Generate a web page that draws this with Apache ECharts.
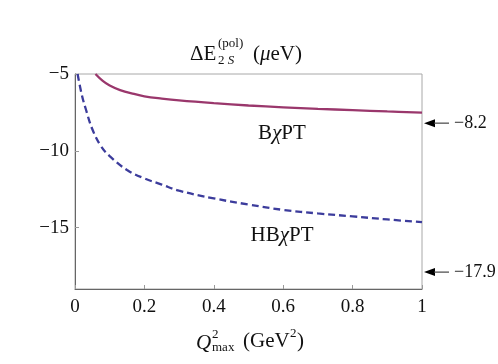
<!DOCTYPE html>
<html>
<head>
<meta charset="utf-8">
<script src="https://cdn.jsdelivr.net/npm/echarts@6/dist/echarts.min.js"></script>
<style>html,body{margin:0;padding:0;background:#fff}#c{width:498px;height:364px}</style>
</head>
<body>
<div id="c"></div>
<script>
// Data
var bchptX = [0.059, 0.08, 0.10, 0.13, 0.17, 0.20, 0.25, 0.30, 0.40, 0.50, 0.60, 0.70, 0.80, 0.90, 1.00];
var bchptY = [-5.0, -5.45, -5.75, -6.05, -6.3, -6.45, -6.6, -6.72, -6.9, -7.05, -7.17, -7.27, -7.35, -7.44, -7.52];
var hbchptX = [0.0075, 0.02, 0.03, 0.05, 0.075, 0.10, 0.15, 0.20, 0.25, 0.30, 0.40, 0.50, 0.60, 0.70, 0.80, 0.90, 1.00];
var hbchptY = [-5.0, -6.4, -7.2, -8.6, -9.7, -10.35, -11.25, -11.8, -12.2, -12.6, -13.1, -13.5, -13.85, -14.08, -14.27, -14.47, -14.65];
var refValues = [-8.2, -17.9];
var refLabels = ['\u22128.2', '\u221217.9'];
var yTicks = [-15, -10, -5];
var xTicks = [0, 0.2, 0.4, 0.6, 0.8, 1];

function zip(a, b) { return a.map(function (v, i) { return [v, b[i]]; }); }
var FONT = 'Liberation Serif';
var chart = echarts.init(document.getElementById('c'), null, {renderer: 'canvas'});
function fmt(v) { return v < 0 ? '\u2212' + Math.abs(v) : String(v); }

chart.setOption({
  animation: false,
  backgroundColor: '#fff',
  grid: {left: 75, right: 76, top: 74, bottom: 75, show: true, borderColor: '#a8a8a8', borderWidth: 1},
  xAxis: {
    type: 'value', min: 0, max: 1, interval: 0.2,
    axisLine: {onZero: false, lineStyle: {color: '#666', width: 1}},
    axisTick: {inside: true, length: 4, lineStyle: {color: '#999'}},
    axisLabel: {fontFamily: FONT, fontSize: 19, color: '#111', margin: 9, formatter: function (v) { return fmt(+v.toFixed(1)); }},
    splitLine: {show: false}
  },
  yAxis: {
    type: 'value', min: -19, max: -5,
    axisLine: {show: true, onZero: false, lineStyle: {color: '#666', width: 1}},
    axisTick: {show: true, inside: true, length: 4, customValues: yTicks, lineStyle: {color: '#999'}},
    axisLabel: {fontFamily: FONT, fontSize: 19, color: '#111', margin: 6, customValues: yTicks, formatter: function (v) { return fmt(v); }},
    splitLine: {show: false}
  },
  series: [
    {type: 'line', data: zip(bchptX, bchptY), smooth: 0.4, showSymbol: false,
     lineStyle: {color: '#9a376c', width: 2.3}, z: 3},
    {type: 'line', data: zip(hbchptX, hbchptY), smooth: 0.4, showSymbol: false,
     lineStyle: {color: '#3c3c9c', width: 2.3, type: [7, 4]}, z: 3}
  ]
});

var g = [];
// arrows + labels at reference values
refValues.forEach(function (v, i) {
  var p = chart.convertToPixel({gridIndex: 0}, [1, v]);
  var x0 = p[0] + 2, y = p[1];
  g.push({type: 'polygon', shape: {points: [[x0, y], [x0 + 11, y - 4], [x0 + 11, y + 4]]}, style: {fill: '#000'}, z: 10});
  g.push({type: 'line', shape: {x1: x0 + 10, y1: y, x2: x0 + 25, y2: y}, style: {stroke: '#444', lineWidth: 1.2}, z: 10});
  g.push({type: 'text', x: x0 + 30, y: y, style: {text: refLabels[i], font: '18px "' + FONT + '"', fill: '#111', verticalAlign: 'middle', align: 'left'}, z: 10});
});
// title
g.push({type: 'text', x: 190, y: 54, style: {text: '\u0394E', font: '21px "' + FONT + '"', fill: '#111', verticalAlign: 'middle'}});
g.push({type: 'text', x: 218, y: 44, style: {text: '(pol)', font: '13px "' + FONT + '"', fill: '#111', verticalAlign: 'middle'}});
g.push({type: 'text', x: 218, y: 61, style: {text: '{n|2 }{i|S}', fill: '#111', verticalAlign: 'middle', rich: {n: {fontFamily: FONT, fontSize: 13, fill: '#111'}, i: {fontFamily: FONT, fontSize: 13, fontStyle: 'italic', fill: '#111'}}}});
g.push({type: 'text', x: 253, y: 54, style: {text: '{n|(}{i|\u03bc}{n|eV)}', verticalAlign: 'middle', rich: {n: {fontFamily: FONT, fontSize: 21, fill: '#111'}, i: {fontFamily: FONT, fontSize: 21, fontStyle: 'italic', fill: '#111'}}}});
// x axis title
g.push({type: 'text', x: 196, y: 343, style: {text: 'Q', font: 'italic 21px "' + FONT + '"', fill: '#111', verticalAlign: 'middle'}});
g.push({type: 'text', x: 212, y: 335, style: {text: '2', font: '13px "' + FONT + '"', fill: '#111', verticalAlign: 'middle'}});
g.push({type: 'text', x: 212, y: 348, style: {text: 'max', font: '13px "' + FONT + '"', fill: '#111', verticalAlign: 'middle'}});
g.push({type: 'text', x: 243, y: 341, style: {text: '(GeV', font: '21px "' + FONT + '"', fill: '#111', verticalAlign: 'middle'}});
g.push({type: 'text', x: 290, y: 334, style: {text: '2', font: '13px "' + FONT + '"', fill: '#111', verticalAlign: 'middle'}});
g.push({type: 'text', x: 297, y: 341, style: {text: ')', font: '21px "' + FONT + '"', fill: '#111', verticalAlign: 'middle'}});
// curve labels
function curveLabel(x, y, pre) {
  return {type: 'text', x: x, y: y, style: {text: '{n|' + pre + '}{i|\u03c7}{n|PT}', align: 'center', verticalAlign: 'middle',
    rich: {n: {fontFamily: FONT, fontSize: 21, fill: '#111'}, i: {fontFamily: FONT, fontSize: 21, fontStyle: 'italic', fill: '#111'}}}};
}
g.push(curveLabel(282, 133, 'B'));
g.push(curveLabel(282, 235, 'HB'));
chart.setOption({graphic: g});
</script>
</body>
</html>
